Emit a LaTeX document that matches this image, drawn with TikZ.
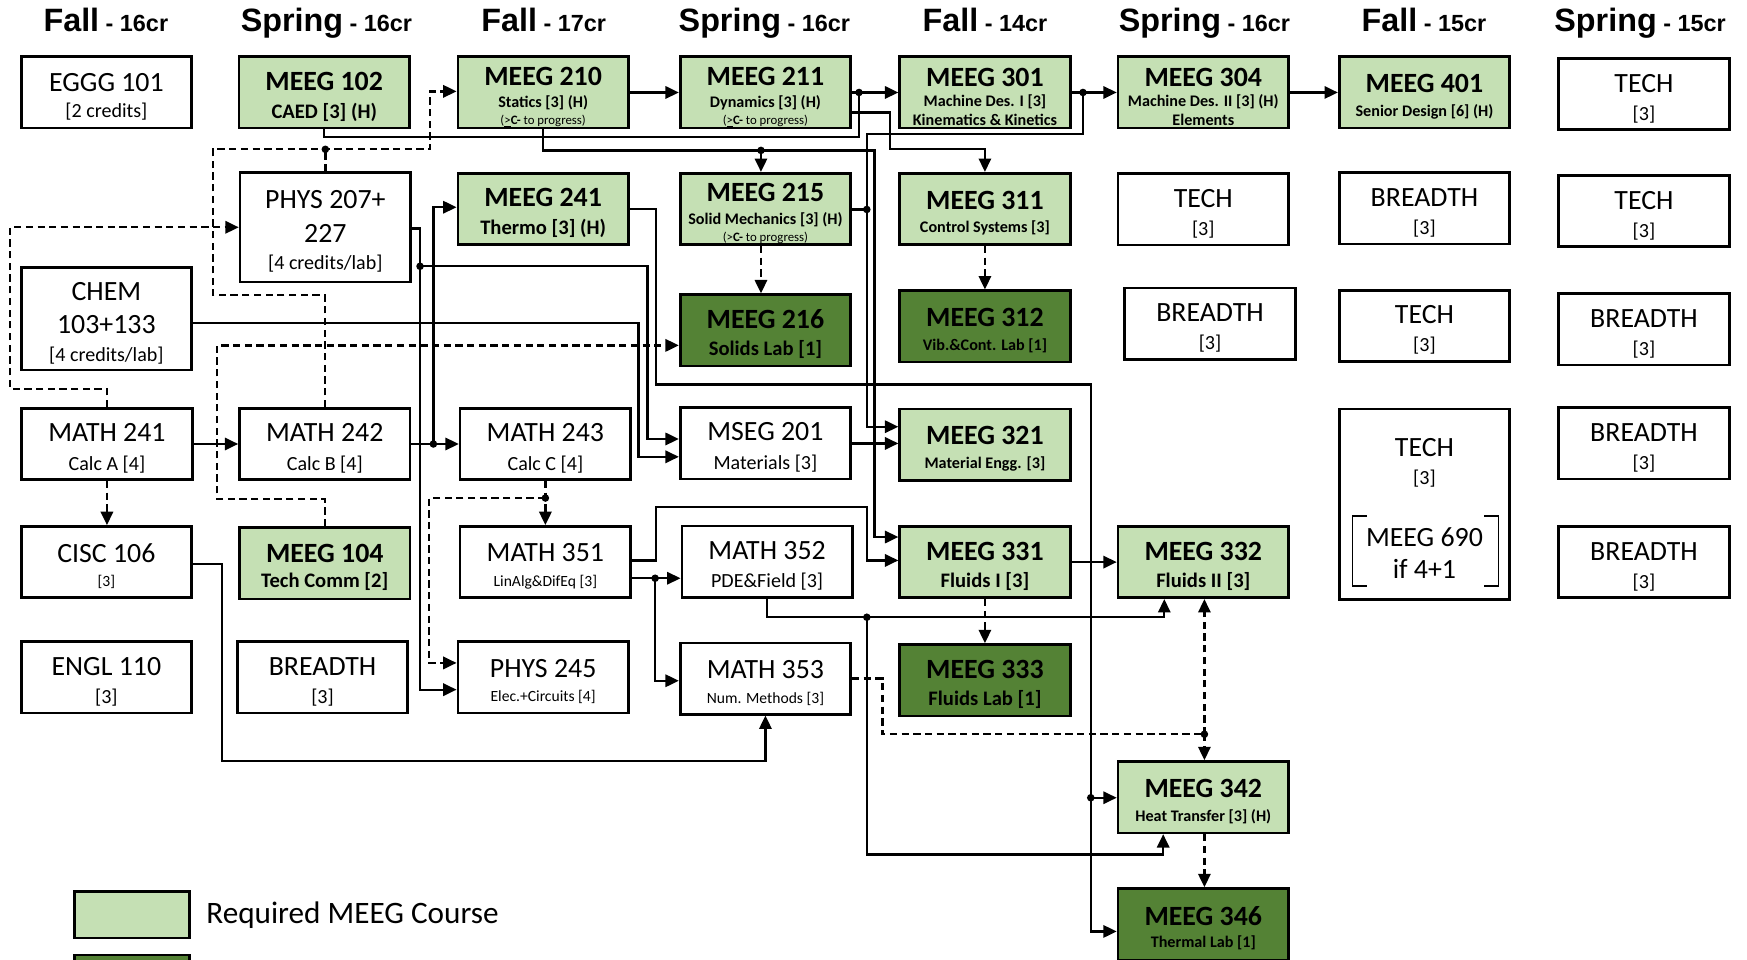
\documentclass[tikz,border=0pt]{standalone}
\usepackage{fontspec}
\setmainfont{Carlito}
\newfontfamily\hdrfont{Liberation Sans}
\usetikzlibrary{arrows.meta}
\definecolor{lgreen}{HTML}{C5E0B4}
\definecolor{dgreen}{HTML}{548235}
\newcommand{\CT}[1]{{\fontsize{25}{30}\selectfont\rule{0pt}{24pt}#1}}
\newcommand{\CTx}[1]{{\fontsize{25}{30}\selectfont #1}}
\newcommand{\CTB}[1]{{\fontsize{25}{30}\selectfont\bfseries\rule{0pt}{24pt}#1}}
\newcommand{\CS}[1]{{\fontsize{18}{22}\selectfont #1}}
\newcommand{\CSS}[1]{{\fontsize{14}{17}\selectfont #1}}
\newcommand{\CSB}[1]{{\fontsize{18.5}{22}\selectfont\bfseries #1}}
\newcommand{\CSSB}[1]{{\fontsize{14.5}{17}\selectfont\bfseries #1}}
\newcommand{\CPR}{{\fontsize{11.5}{13}\selectfont(\underline{>}\textbf{C-} to progress)}}
\newcommand{\HD}[2]{{\hdrfont\bfseries\fontsize{29}{30}\selectfont #1}{\hdrfont\bfseries\fontsize{21}{22}\selectfont\ - #2}}
\tikzset{
  box/.style={draw=black, line width=2.4pt, minimum width=153pt, minimum height=64pt, inner sep=0pt, align=center, fill=white},
  req/.style={box, fill=lgreen},
  lab/.style={box, fill=dgreen},
  lines/.style={font=\fontsize{12}{#1}\selectfont},
  con/.style={line width=2.1pt},
  arr/.style={con, -{Triangle[length=12pt,width=11pt]}},
  dsh/.style={con, dash pattern=on 6.5pt off 4pt},
  darr/.style={arr, dash pattern=on 6.5pt off 4pt},
  hdr/.style={anchor=base, inner sep=0pt}
}
\begin{document}
\begin{tikzpicture}[x=1pt,y=-1pt]
\useasboundingbox (0,0) rectangle (1568,861);
\clip (0,0) rectangle (1568,861);
% headers
\node[hdr] (h1) at (95,28) {\HD{Fall}{16cr}};
\node[hdr] (h2) at (293,28) {\HD{Spring}{16cr}};
\node[hdr] (h3) at (488,28) {\HD{Fall}{17cr}};
\node[hdr] (h4) at (686,28) {\HD{Spring}{16cr}};
\node[hdr] (h5) at (884,28) {\HD{Fall}{14cr}};
\node[hdr] (h6) at (1081,28) {\HD{Spring}{16cr}};
\node[hdr] (h7) at (1278,28) {\HD{Fall}{15cr}};
\node[hdr] (h8) at (1472,28) {\HD{Spring}{15cr}};
% row 1
\node[box,lines=24] (eggg) at (95.5,83) {\CT{EGGG 101}\\\CS{[2 credits]}};
\node[req,lines=25] (m102) at (291,83) {\CTB{MEEG 102}\\\CSB{CAED [3] (H)}};
\node[req,lines=15] (m210) at (487.5,83) {\CTB{MEEG 210}\\[5pt]\CSSB{Statics [3] (H)}\\\CPR};
\node[req,lines=15] (m211) at (687,83) {\CTB{MEEG 211}\\[5pt]\CSSB{Dynamics [3] (H)}\\\CPR};
\node[req,lines=17] (m301) at (884,83) {\CTB{MEEG 301}\\[1pt]\CSSB{Machine Des. I [3]}\\\CSSB{Kinematics \& Kinetics}};
\node[req,lines=17] (m304) at (1080,83) {\CTB{MEEG 304}\\[1pt]\CSSB{Machine Des. II [3] (H)}\\\CSSB{Elements}};
\node[req,lines=21] (m401) at (1278.5,83) {\CTB{MEEG 401}\\\CSSB{Senior Design [6] (H)}};
\node[box,lines=25] (tech81) at (1475.5,84.5) {\CT{TECH}\\\CS{[3]}};
% row 2
\node[box,lines=25,minimum height=98pt] (phys207) at (292,204) {\CT{PHYS 207+}\\[5pt]\CTx{227}\\\CS{[4 credits/lab]}};
\node[req,lines=25] (m241) at (487.5,187.5) {\CTB{MEEG 241}\\\CSB{Thermo [3] (H)}};
\node[req,lines=15] (m215) at (687,187.5) {\CTB{MEEG 215}\\[6pt]\CSSB{Solid Mechanics [3] (H)}\\\CPR};
\node[req,lines=21] (m311) at (884,187.5) {\CTB{MEEG 311}\\\CSSB{Control Systems [3]}};
\node[box,lines=25] (tech62) at (1080,188) {\CT{TECH}\\\CS{[3]}};
\node[box,lines=25] (br72) at (1278.5,187) {\CT{BREADTH}\\\CS{[3]}};
\node[box,lines=25] (tech82) at (1475.5,189.5) {\CT{TECH}\\\CS{[3]}};
% row 3
\node[box,lines=25,minimum height=92pt] (chem) at (95.5,286) {\CT{CHEM}\\[5pt]\CTx{103+133}\\\CS{[4 credits/lab]}};
\node[lab,lines=24] (m216) at (687,296.5) {\CTB{MEEG 216}\\\CSB{Solids Lab [1]}};
\node[lab,lines=21] (m312) at (884,293) {\CTB{MEEG 312}\\\CSSB{Vib.\&Cont. Lab [1]}};
\node[box,lines=25] (br63) at (1086,290.5) {\CT{BREADTH}\\\CS{[3]}};
\node[box,lines=25] (tech73) at (1278.5,292.5) {\CT{TECH}\\\CS{[3]}};
\node[box,lines=25] (br83) at (1475.5,295.5) {\CT{BREADTH}\\\CS{[3]}};
% row 4
\node[box,lines=26] (math241) at (96,398.5) {\CT{MATH 241}\\\CS{Calc A [4]}};
\node[box,lines=26] (math242) at (291.5,398.5) {\CT{MATH 242}\\\CS{Calc B [4]}};
\node[box,lines=26] (math243) at (489.5,398.5) {\CT{MATH 243}\\\CS{Calc C [4]}};
\node[box,lines=26] (mseg201) at (687,398) {\CT{MSEG 201}\\\CS{Materials [3]}};
\node[req,lines=21] (m321) at (884,399) {\CTB{MEEG 321}\\\CSSB{Material Engg. [3]}};
\node[box,lines=25,minimum height=171pt] (tech74) at (1278.5,452.5) {\CT{TECH}\\\CS{[3]}\\[31pt]\CTx{MEEG 690}\\[4pt]\CTx{if 4+1}};
\node[box,lines=25] (br84) at (1475.5,398) {\CT{BREADTH}\\\CS{[3]}};
% row 5
\node[box,lines=22] (cisc106) at (95.5,504.5) {\CT{CISC 106}\\\CSS{[3]}};
\node[req,lines=22] (m104) at (291.5,505.5) {\CTB{MEEG 104}\\\CSB{Tech Comm [2]}};
\node[box,lines=22] (math351) at (489.5,504.5) {\CT{MATH 351}\\\CSS{LinAlg\&DifEq [3]}};
\node[box,lines=25] (math352) at (688.5,504) {\CT{MATH 352}\\\CS{PDE\&Field [3]}};
\node[req,lines=24] (m331) at (884,504.5) {\CTB{MEEG 331}\\\CSB{Fluids I [3]}};
\node[req,lines=24] (m332) at (1080,504.5) {\CTB{MEEG 332}\\\CSB{Fluids II [3]}};
\node[box,lines=25] (br85) at (1475.5,504.5) {\CT{BREADTH}\\\CS{[3]}};
% row 6
\node[box,lines=25] (engl110) at (95.5,608) {\CT{ENGL 110}\\\CS{[3]}};
\node[box,lines=25] (br26) at (289.5,608) {\CT{BREADTH}\\\CS{[3]}};
\node[box,lines=22] (phys245) at (487.5,608) {\CT{PHYS 245}\\\CSS{Elec.+Circuits [4]}};
\node[box,lines=22] (math353) at (687,609) {\CT{MATH 353}\\\CSS{Num. Methods [3]}};
\node[lab,lines=24] (m333) at (884,610.5) {\CTB{MEEG 333}\\\CSB{Fluids Lab [1]}};
\node[req,lines=21] (m342) at (1080,715.5) {\CTB{MEEG 342}\\\CSSB{Heat Transfer [3] (H)}};
\node[lab,lines=20] (m346) at (1080,829.5) {\CTB{MEEG 346}\\\CSSB{Thermal Lab [1]}};
% brackets in MEEG 690 box
\draw[line width=1.6pt] (1227,463) -- (1214,463) -- (1214,526) -- (1227,526);
\draw[line width=1.6pt] (1332,463) -- (1345,463) -- (1345,526) -- (1332,526);
% legend
\node[req,minimum width=103pt,minimum height=42pt] (leg1) at (118.5,821) {};
\node[anchor=west,inner sep=0pt,font=\fontsize{28}{30}\selectfont] (legt1) at (185,821) {Required MEEG Course};
\node[lab,minimum width=103pt,minimum height=42pt] (leg2) at (118.5,878) {};
% junctions
\coordinate (j1) at (771,83);
\coordinate (j2) at (972,83);
\coordinate (j3) at (683,135);
\coordinate (j4) at (778,188);
\coordinate (j5) at (979,716);
\coordinate (j6) at (377,239);
\coordinate (j7) at (389,398.5);
\coordinate (j8) at (489.5,447);
\coordinate (j9) at (588,519);
\coordinate (j10) at (778,554);
\coordinate (j11) at (1081,659);
\coordinate (j12) at (292,134);
% connectors
\draw[arr] (m210.east) -- (m211.west);
\draw[arr] (m211.east) -- (m301.west);
\draw[arr] (m301.east) -- (m304.west);
\draw[arr] (m304.east) -- (m401.west);
\draw[con] (m102.south) |- (771,123) -- (j1);
\draw[arr] (m210.south) |- (785,135) |- (m331.west |- 0,482);
\draw[arr] (j3) -- (j3 |- m215.north);
\draw[arr] (m211.east |- 0,101) -- (799,101) |- (884,134) -- (m311.north);
\draw[arr] (j2) -- (972,120) -| (778,383) -- (m321.west |- 0,383);
\draw[con] (m215.east |- 0,188) -- (j4);
\draw[arr] (m241.east) -| (589,345) -| (979,836) -- (m346.west |- 0,836);
\draw[arr] (j5) -- (m342.west |- 0,716);
\draw[arr] (phys207.east |- 0,205) -| (377,619) -- (phys245.west |- 0,619);
\draw[arr] (j6) -| (581,394) -- (mseg201.west |- 0,394);
\draw[arr] (chem.east |- 0,290) -| (573,410) -- (mseg201.west |- 0,410);
\draw[arr] (math241) -- (math242);
\draw[arr] (math242) -- (math243);
\draw[arr] (j7) |- (m241.west |- 0,186);
\draw[darr] (math243.south) -- (math351.north);
\draw[darr] (j8) -| (385,595) -- (phys245.west |- 0,595);
\draw[arr] (math351.east |- 0,519) -- (math352.west |- 0,519);
\draw[arr] (j9) |- (math353.west |- 0,611);
\draw[arr] (math351.east |- 0,503) -| (589,455) -| (778,503) -- (m331.west |- 0,503);
\draw[arr] (mseg201.east |- 0,398) -- (m321.west |- 0,398);
\draw[arr] (m331.east) -- (m332.west);
\draw[darr] (m331.south) -- (m333.north);
\draw[arr] (math352.south) |- (1045,554) -- (m332.south -| 1045,0);
\draw[arr] (j10) |- (1044,767) -- (m342.south -| 1044,0);
\draw[dsh] (math353.east |- 0,609) -| (792,659) -- (j11);
\draw[darr] (j11) -- (m332.south -| 1081,0);
\draw[darr] (j11) -- (m342.north -| 1081,0);
\draw[arr] (cisc106.east |- 0,506) -| (199,683) -| (math353.south);
\draw[darr] (math241.north) |- (9,349) |- (phys207.west |- 0,204);
\draw[darr] (math241.south) -- (cisc106.north -| math241.south);
\draw[darr] (m104.north) |- (195,448) |- (m216.west |- 0,310);
\draw[darr] (math242.north) |- (191,265) |- (386,134) |- (m210.west |- 0,82);
\draw[dsh] (phys207.north) -- (j12);
\draw[darr] (m215.south -| 683,0) -- (m216.north -| 683,0);
\draw[darr] (m311.south) -- (m312.north);
\draw[darr] (m342.south -| 1081,0) -- (m346.north -| 1081,0);
% dots
\foreach \j in {j1,j2,j3,j4,j5,j6,j7,j8,j9,j10,j11,j12} \fill (\j) circle (3.4pt);
\end{tikzpicture}
\end{document}
